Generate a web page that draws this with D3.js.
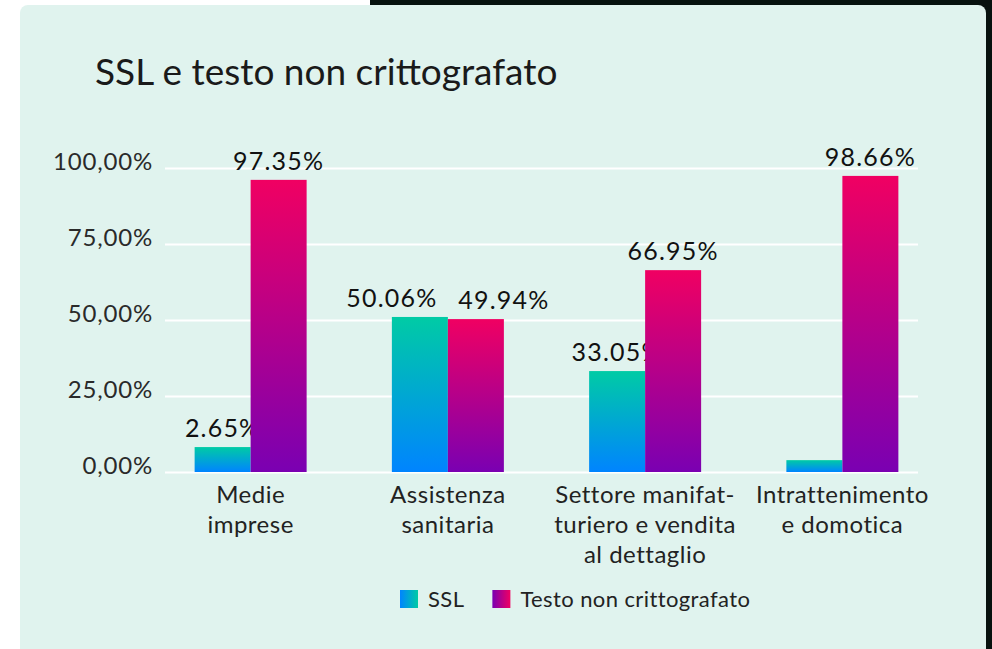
<!DOCTYPE html>
<html><head><meta charset="utf-8">
<script src="https://cdn.jsdelivr.net/npm/d3@7"></script>
<style>
html,body{margin:0;padding:0;background:#ffffff;}
svg{display:block;}
text{font-family:Lato,"Open Sans",sans-serif;}
</style></head>
<body>
<svg id="chart" width="992" height="649"></svg>
<script>
// ---- data ----
const categories = [
  ["Medie", "imprese"],
  ["Assistenza", "sanitaria"],
  ["Settore manifat-", "turiero e vendita", "al dettaglio"],
  ["Intrattenimento", "e domotica"]
];
const seriesNames = ["SSL", "Testo non crittografato"];
const sslValues = [8.2, 51.0, 33.2, 3.9];
const testoValues = [96.1, 50.3, 66.4, 97.4];
const sslLabels = ["2.65%", "50.06%", "33.05%", ""];
const testoLabels = ["97.35%", "49.94%", "66.95%", "98.66%"];
const yTicks = [0, 25, 50, 75, 100];
const yTickLabels = ["0,00%", "25,00%", "50,00%", "75,00%", "100,00%"];
const title = "SSL e testo non crittografato";

const W = 992, H = 649;
const svg = d3.select("#chart");

// background: white page with dark panel on right
svg.append("rect").attr("x", 0).attr("y", 0).attr("width", W).attr("height", H).attr("fill", "#ffffff");
svg.append("rect").attr("x", 370).attr("y", 0).attr("width", W - 370).attr("height", H).attr("fill", "#07120f");
// card
svg.append("rect").attr("x", 20).attr("y", 5).attr("width", 966).attr("height", 660)
  .attr("rx", 8).attr("fill", "#e0f3ee");

// gradients
const defs = svg.append("defs");
function vgrad(id, top, bottom) {
  const g = defs.append("linearGradient").attr("id", id).attr("x1", 0).attr("y1", 0).attr("x2", 0).attr("y2", 1);
  g.append("stop").attr("offset", "0%").attr("stop-color", top);
  g.append("stop").attr("offset", "100%").attr("stop-color", bottom);
}
function hgrad(id, left, right) {
  const g = defs.append("linearGradient").attr("id", id).attr("x1", 0).attr("y1", 0).attr("x2", 1).attr("y2", 0);
  g.append("stop").attr("offset", "0%").attr("stop-color", left);
  g.append("stop").attr("offset", "100%").attr("stop-color", right);
}
vgrad("gSSL", "#00cba5", "#0084ff");
vgrad("gTesto", "#f00062", "#7a00b2");
hgrad("lSSL", "#0084ff", "#00cba5");
hgrad("lTesto", "#7a00b2", "#f00062");

// title
svg.append("text").attr("x", 95).attr("y", 85).attr("font-size", 37).attr("font-weight", 400)
  .attr("fill", "#1a1a1a").text(title);

// scales
const plotLeft = 165, plotRight = 918;
const y = d3.scaleLinear().domain([0, 100]).range([472, 168]);
const x = d3.scaleBand().domain(d3.range(categories.length)).range([152, 941]).paddingInner(0).paddingOuter(0);
const barW = 56;
const xs = d3.scaleBand().domain([0, 1]).range([0, barW * 2]);

// gridlines via axis
const yAxis = d3.axisLeft(y).tickValues(yTicks).tickSize(-(plotRight - plotLeft))
  .tickFormat((d, i) => yTickLabels[i]);
const gy = svg.append("g").attr("transform", `translate(${plotLeft},0)`).call(yAxis);
gy.select(".domain").remove();
gy.selectAll(".tick line").attr("stroke", "#ffffff").attr("stroke-width", 2);
gy.selectAll(".tick text").attr("x", -12).attr("dy", "0").attr("y", 1)
  .attr("font-size", 24).attr("font-weight", 400).attr("letter-spacing", 0.8)
  .attr("fill", "#2a2a2a").attr("font-family", "Lato, sans-serif");

// bars
const groups = svg.append("g").selectAll("g").data(categories).join("g")
  .attr("transform", (d, i) => `translate(${x(i) + x.bandwidth() / 2 - barW},0)`);

const seriesVals = [sslValues, testoValues];
const seriesLabels = [sslLabels, testoLabels];
const fills = ["url(#gSSL)", "url(#gTesto)"];

groups.each(function(d, i) {
  const g = d3.select(this);
  const labs = [];
  [0, 1].forEach(s => {
    const v = seriesVals[s][i];
    g.append("rect").attr("x", xs(s)).attr("width", xs.bandwidth())
      .attr("y", y(v)).attr("height", y(0) - y(v)).attr("fill", fills[s]);
    if (seriesLabels[s][i]) {
      const t = g.append("text").attr("x", xs(s) + xs.bandwidth() / 2).attr("y", y(v) - 10)
        .attr("text-anchor", "middle").attr("font-size", 25).attr("letter-spacing", 1.2)
        .attr("fill", "#111").text(seriesLabels[s][i]);
      labs.push({s, t, v});
    }
  });
  // avoid collision between the two labels of a group: shift outward
  if (labs.length === 2 && Math.abs(y(labs[0].v) - y(labs[1].v)) < 26) {
    labs[0].t.attr("x", xs(0));
    labs[1].t.attr("x", xs(1) + xs.bandwidth());
  }
  // category label
  const t = g.append("text").attr("text-anchor", "middle").attr("font-size", 24)
    .attr("font-weight", 400).attr("letter-spacing", 0.5).attr("fill", "#222");
  d.forEach((line, li) => {
    t.append("tspan").attr("x", barW).attr("y", 503 + li * 30).text(line);
  });
});

// legend
const legend = svg.append("g");
let lx = 400;
seriesNames.forEach((name, i) => {
  legend.append("rect").attr("x", lx).attr("y", 590).attr("width", 18).attr("height", 18)
    .attr("fill", i === 0 ? "url(#lSSL)" : "url(#lTesto)");
  const t = legend.append("text").attr("x", lx + 28).attr("y", 607).attr("font-size", 22)
    .attr("font-weight", 400).attr("letter-spacing", 0.4).attr("fill", "#222").text(name);
  lx = lx + 28 + t.node().getComputedTextLength() + 28;
});
</script>
</body></html>
